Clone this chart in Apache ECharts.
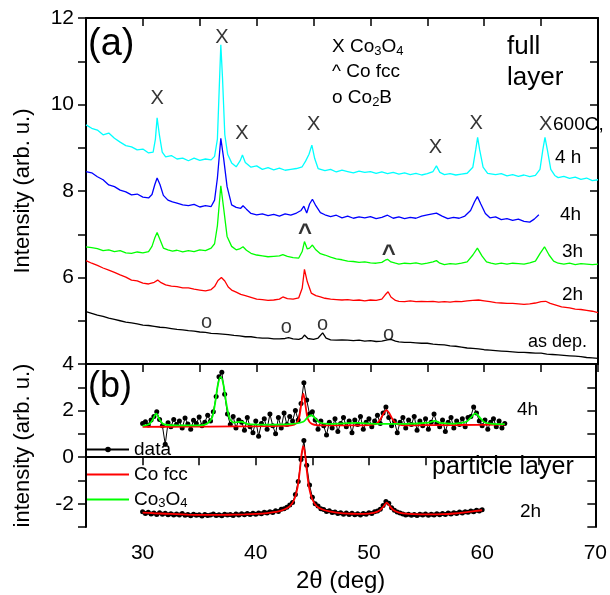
<!DOCTYPE html>
<html>
<head>
<meta charset="utf-8">
<script src="https://cdn.jsdelivr.net/npm/echarts@6/dist/echarts.min.js"></script>
<style>
  html, body { margin: 0; padding: 0; background: #fff; }
  #chart { width: 610px; height: 595px; }
</style>
</head>
<body>
<div id="chart"></div>
<script>
// (a) full layer, 2theta vs intensity, pairs
const full4h = [[25,9.53],[25.5,9.45],[26,9.41],[26.5,9.30],[27,9.34],[27.5,9.22],[28,9.13],[28.5,9.05],[29,9.02],[29.5,8.95],[30,8.97],[30.5,8.88],[30.9,8.90],[31.1,9.20],[31.25,9.69],[31.45,9.30],[31.7,8.90],[32,8.79],[32.5,8.82],[33,8.74],[33.5,8.76],[34,8.70],[34.5,8.76],[35,8.71],[35.5,8.74],[36,8.72],[36.3,8.80],[36.55,9.20],[36.7,10.3],[36.85,11.38],[37.0,10.6],[37.2,9.3],[37.45,8.85],[37.8,8.65],[38.2,8.56],[38.55,8.70],[38.75,8.83],[39.0,8.66],[39.5,8.55],[40,8.58],[40.5,8.50],[41,8.54],[41.5,8.49],[42,8.53],[42.5,8.48],[43,8.50],[43.5,8.52],[44,8.56],[44.3,8.69],[44.6,8.85],[44.85,9.06],[45.1,8.75],[45.4,8.52],[46,8.47],[46.5,8.50],[47,8.44],[47.5,8.48],[48,8.45],[48.5,8.42],[49,8.46],[49.5,8.43],[50,8.45],[50.5,8.41],[51,8.44],[51.5,8.40],[52,8.43],[52.5,8.39],[53,8.42],[53.5,8.38],[54,8.41],[54.5,8.37],[55,8.40],[55.5,8.45],[55.8,8.58],[56.1,8.43],[56.5,8.38],[57,8.40],[57.5,8.37],[58,8.39],[58.5,8.41],[59,8.55],[59.25,8.95],[59.42,9.24],[59.6,8.95],[59.9,8.55],[60.3,8.41],[61,8.38],[61.5,8.40],[62,8.35],[62.5,8.38],[63,8.34],[63.5,8.37],[64,8.33],[64.5,8.36],[64.9,8.50],[65.15,8.95],[65.34,9.24],[65.55,8.95],[65.85,8.50],[66.2,8.36],[66.5,8.31],[67,8.34],[67.5,8.29],[68,8.32],[68.5,8.27],[69,8.30],[69.5,8.24],[70,8.26]];
const full4hB = [[25,8.45],[25.5,8.42],[26,8.33],[26.5,8.26],[27,8.14],[27.5,8.10],[28,8.02],[28.5,7.98],[29,7.91],[29.5,7.93],[30,7.86],[30.5,7.84],[30.8,7.92],[31.05,8.15],[31.25,8.30],[31.5,8.15],[31.8,7.90],[32.2,7.79],[32.6,7.75],[33,7.72],[33.5,7.68],[34,7.66],[34.5,7.69],[35,7.63],[35.5,7.66],[36,7.64],[36.3,7.79],[36.55,8.3],[36.85,9.22],[37.1,8.75],[37.4,8.10],[37.8,7.68],[38.2,7.62],[38.6,7.60],[38.8,7.66],[39.1,7.58],[39.5,7.48],[40,7.45],[40.5,7.47],[41,7.43],[41.5,7.46],[42,7.42],[42.5,7.47],[43,7.44],[43.5,7.49],[43.9,7.55],[44.15,7.65],[44.4,7.49],[44.65,7.70],[44.9,7.81],[45.2,7.66],[45.6,7.50],[46,7.45],[46.5,7.41],[47,7.44],[47.5,7.38],[48,7.42],[48.5,7.37],[49,7.40],[49.5,7.38],[50,7.41],[50.5,7.36],[51,7.39],[51.5,7.44],[52,7.37],[52.5,7.40],[53,7.36],[53.5,7.39],[54,7.37],[54.5,7.42],[55,7.45],[55.8,7.49],[56.3,7.42],[56.8,7.36],[57.3,7.39],[57.8,7.37],[58.3,7.42],[58.8,7.55],[59.15,7.75],[59.4,7.87],[59.7,7.70],[60.1,7.48],[60.5,7.38],[61,7.40],[61.5,7.34],[62,7.36],[62.5,7.32],[63,7.35],[63.5,7.30],[64,7.28],[64.4,7.35],[64.8,7.45]];
const full3h = [[25,6.71],[25.5,6.69],[26,6.67],[26.5,6.62],[27,6.64],[27.5,6.60],[28,6.62],[28.5,6.57],[29,6.56],[29.5,6.59],[30,6.57],[30.5,6.60],[30.8,6.72],[31.05,6.92],[31.25,7.04],[31.5,6.88],[31.8,6.68],[32.2,6.64],[32.6,6.61],[33,6.63],[33.5,6.59],[34,6.62],[34.5,6.60],[35,6.64],[35.5,6.62],[36,6.68],[36.3,6.78],[36.55,7.2],[36.85,8.12],[37.1,7.6],[37.4,6.95],[37.8,6.72],[38.2,6.64],[38.5,6.66],[38.8,6.71],[39.1,6.63],[39.5,6.56],[40,6.52],[40.5,6.50],[41,6.48],[41.5,6.49],[42,6.50],[42.3,6.53],[42.7,6.49],[43.2,6.46],[43.7,6.45],[44.0,6.60],[44.2,6.83],[44.45,6.66],[44.65,6.68],[44.9,6.75],[45.2,6.64],[45.6,6.55],[46,6.52],[46.5,6.47],[47,6.43],[47.5,6.41],[48,6.38],[48.5,6.37],[49,6.35],[49.5,6.36],[50,6.34],[50.5,6.33],[51,6.35],[51.3,6.40],[51.5,6.42],[51.8,6.36],[52.2,6.33],[52.5,6.31],[53,6.33],[53.5,6.32],[54,6.34],[54.5,6.31],[55,6.33],[55.5,6.36],[55.8,6.39],[56.1,6.33],[56.5,6.30],[57,6.32],[57.5,6.31],[58,6.33],[58.5,6.36],[59,6.52],[59.4,6.68],[59.8,6.50],[60.2,6.36],[60.6,6.33],[61,6.31],[61.5,6.33],[62,6.31],[62.5,6.33],[63,6.32],[63.5,6.31],[64,6.34],[64.5,6.38],[64.9,6.55],[65.3,6.71],[65.7,6.52],[66.1,6.38],[66.5,6.33],[67,6.31],[67.5,6.33],[68,6.30],[68.5,6.32],[69,6.31],[69.5,6.30],[70,6.31]];
const full2h = [[25,6.39],[25.5,6.33],[26,6.28],[26.5,6.22],[27,6.17],[27.5,6.12],[28,6.06],[28.5,6.01],[29,5.94],[29.5,5.92],[30,5.87],[30.5,5.85],[31,5.89],[31.3,5.94],[31.6,5.88],[32,5.83],[32.5,5.80],[33,5.79],[33.5,5.76],[34,5.76],[34.5,5.73],[35,5.71],[35.5,5.69],[36,5.72],[36.3,5.79],[36.6,5.93],[36.9,6.00],[37.2,5.92],[37.5,5.78],[37.8,5.71],[38.2,5.66],[38.6,5.61],[39,5.58],[39.5,5.54],[40,5.50],[40.5,5.49],[41,5.47],[41.5,5.48],[42,5.50],[42.3,5.55],[42.7,5.51],[43.2,5.50],[43.7,5.53],[44.0,5.75],[44.2,6.19],[44.45,5.90],[44.8,5.64],[45.2,5.58],[45.6,5.55],[46,5.52],[46.5,5.50],[47,5.49],[47.5,5.48],[48,5.49],[48.5,5.47],[49,5.48],[49.5,5.46],[50,5.48],[50.5,5.47],[51,5.50],[51.3,5.60],[51.55,5.67],[51.8,5.55],[52.2,5.47],[52.5,5.45],[53,5.44],[53.5,5.46],[54,5.44],[54.5,5.45],[55,5.44],[55.5,5.45],[56,5.43],[56.5,5.44],[57,5.43],[57.5,5.45],[58,5.44],[58.5,5.46],[59,5.47],[59.5,5.48],[60,5.46],[60.5,5.44],[61,5.42],[61.5,5.41],[62,5.40],[62.5,5.40],[63,5.39],[63.5,5.38],[64,5.39],[64.5,5.41],[65,5.44],[65.4,5.45],[65.8,5.40],[66.3,5.36],[66.8,5.32],[67.5,5.30],[68,5.27],[68.5,5.26],[69,5.24],[69.5,5.22],[70,5.19]];
const fullAsDep = [[25,5.21],[25.5,5.17],[26,5.13],[26.5,5.10],[27,5.06],[27.5,5.03],[28,5.00],[28.5,4.97],[29,4.95],[29.5,4.93],[30,4.90],[30.5,4.89],[31,4.87],[31.5,4.85],[32,4.84],[32.5,4.82],[33,4.80],[33.5,4.79],[34,4.77],[34.5,4.76],[35,4.74],[35.5,4.73],[36,4.71],[36.5,4.70],[37,4.69],[37.5,4.68],[38,4.66],[38.5,4.65],[39,4.63],[39.5,4.63],[40,4.61],[40.5,4.60],[41,4.60],[41.5,4.58],[42,4.58],[42.5,4.59],[42.8,4.61],[43.2,4.58],[43.7,4.57],[44.0,4.60],[44.2,4.67],[44.5,4.59],[45.0,4.57],[45.4,4.60],[45.8,4.72],[46.1,4.60],[46.5,4.56],[47,4.55],[47.5,4.56],[48,4.55],[48.5,4.54],[49,4.55],[49.5,4.53],[50,4.54],[50.5,4.52],[51,4.53],[51.5,4.56],[51.8,4.57],[52.2,4.53],[52.5,4.51],[53,4.50],[53.5,4.50],[54,4.49],[54.5,4.48],[55,4.48],[55.5,4.46],[56,4.45],[56.5,4.44],[57,4.42],[57.5,4.41],[58,4.39],[58.5,4.37],[59,4.36],[59.5,4.35],[60,4.33],[60.5,4.32],[61,4.31],[61.5,4.30],[62,4.29],[62.5,4.28],[63,4.27],[63.5,4.27],[64,4.26],[64.5,4.25],[65,4.25],[65.5,4.23],[66,4.22],[66.5,4.21],[67,4.20],[67.5,4.19],[68,4.18],[68.5,4.17],[69,4.15],[69.5,4.14],[70,4.13]];

// peak markers (position of the X / ^ / o glyphs)
const peakCo3O4 = [[31.25,10.13],[36.95,11.54],[38.7,9.34],[45.0,9.53],[55.7,9.0],[59.3,9.57],[65.4,9.53]];
const peakCoFcc = [[44.25,7.03],[51.6,6.54]];
const peakCo2B = [[35.6,4.95],[42.6,4.85],[45.8,4.92],[51.6,4.69]];

// (b) particle layer, measured points every 0.25 deg from 30
const partStep = 0.25;
const part4hStart = 30;
const part4hData = [1.45,1.52,1.38,1.60,1.75,1.95,1.62,1.35,0.55,1.48,1.30,1.62,1.40,1.55,1.25,1.68,1.42,1.20,1.58,1.45,1.72,1.35,1.50,1.80,1.55,1.95,2.60,3.45,3.65,2.70,1.85,1.40,1.75,1.25,1.60,1.50,1.15,1.70,1.30,1.05,1.55,0.90,1.45,1.65,1.20,1.85,1.35,1.00,1.70,1.25,1.90,1.40,1.75,1.55,2.00,1.60,2.30,3.20,2.45,1.85,1.95,1.60,1.20,1.55,1.35,0.95,1.50,1.25,1.65,1.10,1.45,1.70,1.30,1.55,1.05,1.60,1.40,1.75,1.20,1.50,1.65,1.30,1.55,1.80,1.45,1.90,2.15,1.70,1.35,1.55,1.05,1.50,1.70,1.25,1.60,1.40,1.75,1.15,1.55,1.35,1.65,1.20,1.50,1.85,1.45,1.30,1.60,1.10,1.50,1.70,1.25,1.55,1.40,1.65,1.30,1.70,1.75,2.15,1.90,1.55,1.35,1.60,1.20,1.50,1.65,1.30,1.55,1.25,1.45];
const part2hStart = 30;
const part2hData = [-2.35,-2.42,-2.37,-2.44,-2.40,-2.46,-2.39,-2.45,-2.41,-2.47,-2.43,-2.49,-2.44,-2.48,-2.42,-2.50,-2.46,-2.52,-2.45,-2.50,-2.47,-2.53,-2.46,-2.51,-2.48,-2.44,-2.51,-2.47,-2.52,-2.45,-2.49,-2.46,-2.51,-2.44,-2.48,-2.43,-2.47,-2.42,-2.46,-2.41,-2.45,-2.40,-2.43,-2.37,-2.40,-2.34,-2.38,-2.30,-2.33,-2.24,-2.22,-2.15,-2.05,-1.95,-1.60,-1.05,-0.10,0.72,-0.35,-1.20,-1.72,-2.00,-2.10,-2.22,-2.25,-2.33,-2.30,-2.38,-2.36,-2.42,-2.39,-2.45,-2.40,-2.46,-2.41,-2.47,-2.43,-2.48,-2.42,-2.45,-2.39,-2.42,-2.35,-2.31,-2.24,-2.08,-1.90,-1.98,-2.17,-2.28,-2.36,-2.40,-2.44,-2.49,-2.45,-2.50,-2.46,-2.51,-2.45,-2.49,-2.44,-2.50,-2.45,-2.48,-2.43,-2.47,-2.42,-2.46,-2.40,-2.44,-2.39,-2.42,-2.36,-2.40,-2.34,-2.37,-2.31,-2.35,-2.28,-2.31,-2.26];

// fitted curves
const fit4hFcc = [[30,1.30],[34,1.31],[38,1.32],[42,1.34],[43.4,1.40],[43.8,1.65],[44.0,2.2],[44.2,2.73],[44.4,2.2],[44.6,1.65],[45.0,1.42],[46,1.36],[49,1.36],[50.6,1.42],[51.0,1.62],[51.3,1.88],[51.55,2.02],[51.8,1.88],[52.1,1.62],[52.5,1.42],[53.5,1.37],[58,1.38],[62,1.40]];
const fit4hCo3O4 = [[30,1.34],[30.6,1.42],[30.9,1.62],[31.2,1.87],[31.5,1.62],[31.8,1.43],[32.5,1.37],[34,1.36],[35.5,1.40],[36.1,1.65],[36.4,2.3],[36.65,3.1],[36.9,3.45],[37.15,3.1],[37.4,2.3],[37.7,1.65],[38.1,1.48],[38.7,1.52],[39.3,1.42],[41,1.40],[43,1.42],[44.2,1.52],[44.6,1.72],[44.9,1.80],[45.2,1.70],[45.6,1.50],[46.5,1.43],[49,1.47],[50.5,1.43],[53,1.43],[55.3,1.48],[55.8,1.56],[56.3,1.47],[57.5,1.44],[58.6,1.52],[59.0,1.70],[59.4,1.88],[59.8,1.70],[60.2,1.50],[61,1.43],[62,1.42]];
const fit2hFcc = [[30,-2.38],[31,-2.41],[32,-2.43],[33,-2.45],[34,-2.47],[35,-2.48],[36,-2.48],[37,-2.48],[38,-2.47],[39,-2.46],[40,-2.44],[41,-2.40],[42,-2.33],[42.5,-2.25],[43,-2.11],[43.4,-1.82],[43.7,-1.27],[43.9,-0.54],[44.05,0.14],[44.2,0.47],[44.35,0.14],[44.5,-0.54],[44.7,-1.27],[45,-1.82],[45.4,-2.11],[45.9,-2.25],[46.5,-2.33],[47.5,-2.40],[48.5,-2.43],[49.5,-2.44],[50.5,-2.38],[51,-2.27],[51.3,-2.11],[51.57,-1.95],[51.85,-2.11],[52.15,-2.27],[52.65,-2.38],[53.5,-2.44],[54.5,-2.46],[55.5,-2.46],[56.5,-2.45],[57.5,-2.42],[58.5,-2.37],[59.3,-2.32],[60,-2.28]];

const FONT = 'Liberation Sans, Arial, sans-serif';
const GREEN = '#00ff00';
const subRich = {
  n: { fontSize: 19, fontFamily: FONT, color: '#000' },
  s: { fontSize: 13, fontFamily: FONT, color: '#000', verticalAlign: 'bottom', padding: [8, 0, 0, 0] }
};

const toPairs = (vals, start) => vals.map((v, i) => [start + i * partStep, v]);

const frameLine = { lineStyle: { color: '#000', width: 2 } };
const xBase = (grid, pos, inside) => ({
  type: 'value', gridIndex: grid, position: pos, min: 25, max: 70, interval: 5,
  axisLine: frameLine, splitLine: { show: false },
  axisTick: { inside: inside, length: 8, lineStyle: { color: '#000', width: 1.5 } },
  axisLabel: { show: false }
});
const yBase = (grid, pos, min, max, inside) => ({
  type: 'value', gridIndex: grid, position: pos, min: min, max: max, interval: 1,
  axisLine: { show: true, ...frameLine }, splitLine: { show: false },
  axisTick: { show: true, inside: inside, length: 8, lineStyle: { color: '#000', width: 1.5 } },
  axisLabel: { show: false }
});

const lineSeries = (data, color, x, y) => ({
  type: 'line', data: data, xAxisIndex: x, yAxisIndex: y, showSymbol: false,
  lineStyle: { color: color, width: 1.3 }, itemStyle: { color: color }, silent: true
});
// fitted curve: drawn above the data dots, no symbol in the legend
const fitSeries = (name, data, color) => ({
  name: name, type: 'line', data: data, xAxisIndex: 2, yAxisIndex: 2, z: 5,
  symbol: 'none', smooth: 0.3, silent: true,
  lineStyle: { color: color, width: 1.8 }, itemStyle: { color: color, opacity: 0 }
});
const dataSeries = (vals, start) => ({
  name: 'data', type: 'line', xAxisIndex: 2, yAxisIndex: 2, z: 3,
  data: toPairs(vals, start), symbol: 'circle', symbolSize: 5,
  lineStyle: { color: '#000', width: 1 }, itemStyle: { color: '#000' }, silent: true
});
const markSeries = (data, text, extra) => ({
  type: 'scatter', data: data, xAxisIndex: 0, yAxisIndex: 0, symbolSize: 1,
  itemStyle: { color: 'rgba(0,0,0,0)' }, silent: true,
  label: Object.assign({ show: true, position: 'inside', formatter: text, fontSize: 20, fontFamily: FONT, color: '#000' }, extra || {})
});

const textEl = (x, y, text, size, extra) => ({
  type: 'text', x: x, y: y,
  style: Object.assign({ text: text, fontSize: size, fontFamily: FONT, fill: '#000', verticalAlign: 'middle' }, extra || {})
});

const chart = echarts.init(document.getElementById('chart'));

const axisYLeft0 = yBase(0, 'left', 4, 12, false);
axisYLeft0.axisLabel = { show: true, fontSize: 21, fontFamily: FONT, color: '#000', margin: 12,
  formatter: v => (v % 2 === 0 && v > 4) ? String(v) : '' };
axisYLeft0.name = 'Intensity (arb. u.)';
axisYLeft0.nameLocation = 'middle';
axisYLeft0.nameGap = 52;
axisYLeft0.nameTextStyle = { fontSize: 22, fontFamily: FONT, color: '#000' };

const axisYLeft1 = yBase(1, 'left', -3, 4, false);
axisYLeft1.axisLabel = { show: true, fontSize: 21, fontFamily: FONT, color: '#000', margin: 12,
  formatter: v => (v % 2 === 0) ? String(v) : '' };
axisYLeft1.name = 'intensity (arb. u.)';
axisYLeft1.nameLocation = 'middle';
axisYLeft1.nameGap = 52;
axisYLeft1.nameTextStyle = { fontSize: 22, fontFamily: FONT, color: '#000' };

const axisXBottom = xBase(1, 'bottom', false);
axisXBottom.axisLabel = { show: true, fontSize: 21, fontFamily: FONT, color: '#000', margin: 16,
  formatter: v => (v % 10 === 0) ? String(v) : '' };
axisXBottom.name = '2θ (deg)';
axisXBottom.nameLocation = 'middle';
axisXBottom.nameGap = 42;
axisXBottom.nameTextStyle = { fontSize: 24, fontFamily: FONT, color: '#000' };

const option = {
  animation: false,
  backgroundColor: '#fff',
  grid: [
    { left: 86, right: 12, top: 18, height: 346 },
    { left: 86, right: 12, top: 364, height: 163 }
  ],
  xAxis: [xBase(0, 'bottom', false), xBase(0, 'top', true), axisXBottom],
  yAxis: [axisYLeft0, yBase(0, 'right', 4, 12, true), axisYLeft1, yBase(1, 'right', -3, 4, true)],
  legend: {
    data: ['data', 'Co fcc', 'Co3O4'],
    orient: 'vertical', left: 86, top: 440, padding: 0,
    itemWidth: 42, itemHeight: 7, itemGap: 6,
    textStyle: { fontSize: 19, fontFamily: FONT, color: '#000', rich: subRich },
    formatter: name => name === 'Co3O4' ? '{n|Co}{s|3}{n|O}{s|4}' : name
  },
  series: [
    lineSeries(fullAsDep, '#000000', 0, 0),
    lineSeries(full2h, '#ff0000', 0, 0),
    lineSeries(full3h, GREEN, 0, 0),
    lineSeries(full4hB, '#0000ff', 0, 0),
    lineSeries(full4h, '#00ffff', 0, 0),
    markSeries(peakCo3O4, 'X'),
    markSeries(peakCoFcc, '^', { fontSize: 24, fontWeight: 'bold' }),
    markSeries(peakCo2B, 'o'),
    dataSeries(part4hData, part4hStart),
    dataSeries(part2hData, part2hStart),
    fitSeries('Co fcc', fit4hFcc, '#ff0000'),
    fitSeries('Co3O4', fit4hCo3O4, GREEN),
    fitSeries('Co fcc', fit2hFcc, '#ff0000')
  ],
  graphic: [
    textEl(88, 45, '(a)', 38),
    textEl(332, 47, '{n|X Co}{s|3}{n|O}{s|4}', 19, { rich: subRich }),
    textEl(332, 72, '^ Co fcc', 19),
    textEl(332, 98, '{n|o Co}{s|2}{n|B}', 19, { rich: subRich }),
    textEl(507, 47, 'full', 26),
    textEl(507, 78, 'layer', 26),
    textEl(553, 125, '600C,', 19),
    textEl(555, 158, '4 h', 19),
    textEl(560, 215, '4h', 19),
    textEl(562, 252, '3h', 19),
    textEl(562, 295, '2h', 19),
    textEl(528, 342, 'as dep.', 18),
    textEl(88, 387, '(b)', 36),
    textEl(517, 410, '4h', 19),
    textEl(432, 467, 'particle layer', 25),
    textEl(520, 512, '2h', 19)
  ]
};

chart.setOption(option);
</script>
</body>
</html>
